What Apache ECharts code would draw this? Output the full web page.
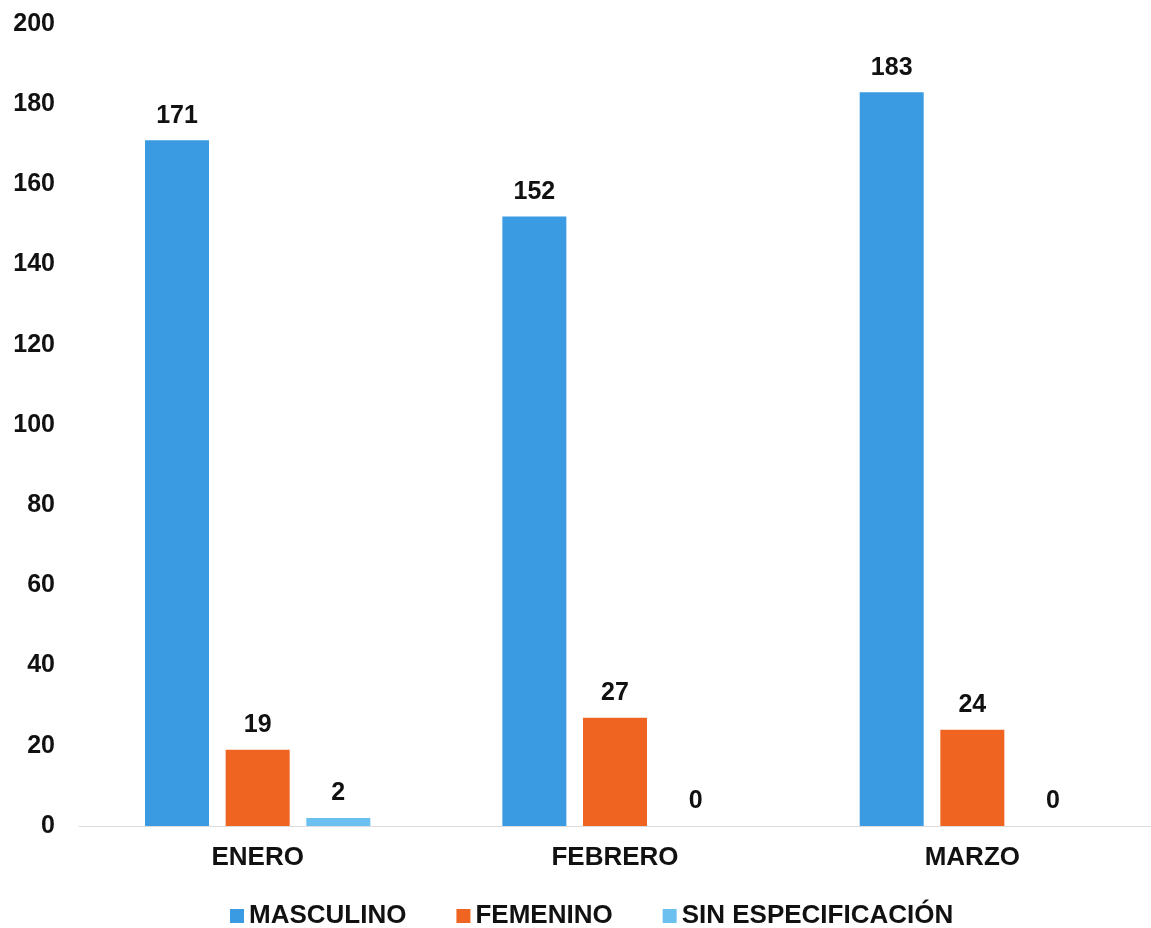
<!DOCTYPE html>
<html>
<head>
<meta charset="utf-8">
<script src="https://cdn.jsdelivr.net/npm/echarts@6/dist/echarts.min.js"></script>
<style>
  html, body { margin: 0; padding: 0; background: #fff; }
  #chart { width: 1151px; height: 928px; }
</style>
</head>
<body>
<div id="chart"></div>
<script>
// datos
const categories = ['ENERO', 'FEBRERO', 'MARZO'];
const masculino = [171, 152, 183];
const femenino = [19, 27, 24];
const sinEspecificacion = [2, 0, 0];
const seriesNames = ['MASCULINO', 'FEMENINO', 'SIN ESPECIFICACIÓN'];
const colorList = ['#3a9be2', '#ef6420', '#6cc0f0'];

const font = 'Liberation Sans, Arial, sans-serif';

const chart = echarts.init(document.getElementById('chart'));

function barSeries(name, data, color) {
  return {
    name: name,
    type: 'bar',
    data: data,
    barWidth: 64,
    barGap: '26%',
    itemStyle: { color: color },
    label: {
      show: true,
      position: 'top',
      distance: 12,
      color: '#111',
      fontFamily: font,
      fontWeight: 'bold',
      fontSize: 25
    }
  };
}

chart.setOption({
  animation: false,
  color: colorList,
  grid: { left: 79, right: 0, top: 24, bottom: 102 },
  legend: {
    top: 898,
    left: 225,
    itemWidth: 14,
    itemHeight: 14,
    itemGap: 50,
    icon: 'rect',
    textStyle: { color: '#111', fontFamily: font, fontWeight: 'bold', fontSize: 26 },
    data: seriesNames
  },
  xAxis: {
    type: 'category',
    data: categories,
    axisLine: { lineStyle: { color: '#dcdcdc', width: 1 } },
    axisTick: { show: false },
    axisLabel: {
      margin: 19,
      color: '#111',
      fontFamily: font,
      fontWeight: 'bold',
      fontSize: 26
    }
  },
  yAxis: {
    type: 'value',
    min: 0,
    max: 200,
    interval: 20,
    axisLine: { show: false },
    axisTick: { show: false },
    splitLine: { show: false },
    axisLabel: {
      margin: 24,
      color: '#111',
      fontFamily: font,
      fontWeight: 'bold',
      fontSize: 25
    }
  },
  series: [
    barSeries(seriesNames[0], masculino, colorList[0]),
    barSeries(seriesNames[1], femenino, colorList[1]),
    barSeries(seriesNames[2], sinEspecificacion, colorList[2])
  ]
});
</script>
</body>
</html>
